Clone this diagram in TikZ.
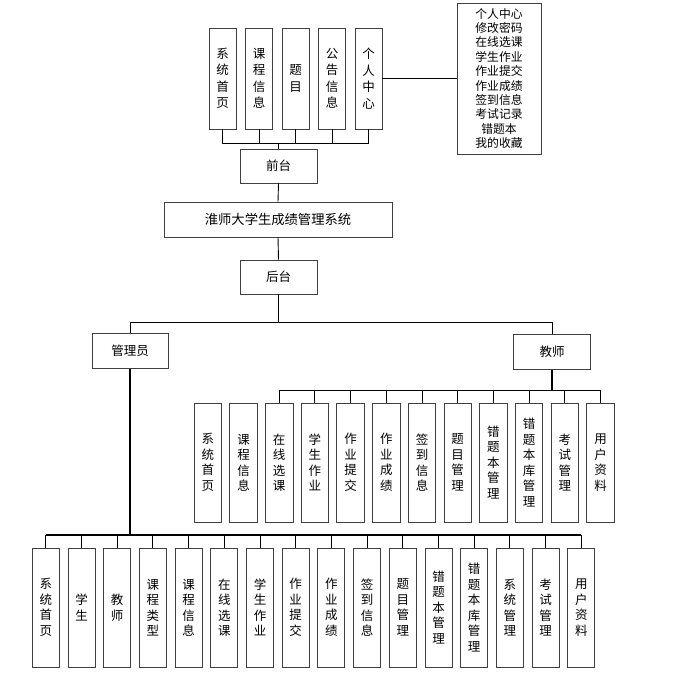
\documentclass[tikz,border=0pt]{standalone}
\usepackage{fontspec}
\newfontfamily\cjk{Noto Sans CJK SC}
\tikzset{
  box/.style={draw=black!75, line width=0.9pt, inner sep=0pt, align=center,
    font=\cjk\fontsize{12.5}{14}\selectfont},
  vbox/.style={box, font=\cjk\fontsize{12.5}{15.5}\selectfont},
  link/.style={draw=black, line width=0.9pt},
  boldlink/.style={draw=black, line width=1.8pt}
}
\begin{document}
\begin{tikzpicture}[x=1pt,y=-1pt]
        \useasboundingbox (0,0) rectangle (684,672);

        % Front part
        \foreach \t [count=\i] in {{系\\统\\首\\页},{课\\程\\信\\息},{题\\目},{公\\告\\信\\息},{个\\人\\中\\心}}
            \node[vbox, minimum width=27pt, minimum height=101pt,
                  font=\cjk\fontsize{12.5}{16.5}\selectfont] (t\i) at (222.5+36.5*\i-36.5,78.5) {\t};
        \node[box, minimum width=84pt, minimum height=151pt,
              font=\cjk\fontsize{11.8}{14.4}\selectfont] (grzx) at (499,78.5)
            {个人中心\\修改密码\\在线选课\\学生作业\\作业提交\\作业成绩\\签到信息\\考试记录\\错题本\\我的收藏};
        \node[box, minimum width=77pt, minimum height=34pt] (qt) at (278.5,166) {前台};
        \coordinate (qbus) at (278.5,143);
        \foreach \i in {1,...,5}
            \draw[link] (t\i.south) |- (qbus);
        \draw[link] (qbus) -- (qt.north);
        \draw[link] (t5.east) -- (grzx.west);

        % System
        \node[box, minimum width=228pt, minimum height=35pt,
              font=\cjk\fontsize{13.3}{15}\selectfont] (xt) at (278,219.5) {淮师大学生成绩管理系统};
        \node[box, minimum width=77pt, minimum height=34pt] (ht) at (278.5,277) {后台};
        \draw[link] (qt.south) -- (xt.north);
        \draw[link] (xt.south) -- (ht.north);

        % Back part
        \node[box, minimum width=76pt, minimum height=35pt] (gly) at (130,351) {管理员};
        \node[box, minimum width=77pt, minimum height=35pt] (js) at (552,352) {教师};
        \coordinate (hbus) at (278.5,322);
        \draw[link] (ht.south) -- (hbus);
        \draw[link] (hbus) -| (gly.north);
        \draw[link] (hbus) -| (js.north);

        % Teacher
        \foreach \t [count=\i] in {{系\\统\\首\\页},{课\\程\\信\\息},{在\\线\\选\\课},{学\\生\\作\\业},
                {作\\业\\提\\交},{作\\业\\成\\绩},{签\\到\\信\\息},{题\\目\\管\\理},{错\\题\\本\\管\\理},
                {错\\题\\本\\库\\管\\理},{考\\试\\管\\理},{用\\户\\资\\料}}
            \node[vbox, minimum width=27.5pt, minimum height=119pt] (js\i) at (207.8+35.7*\i-35.7,462.5) {\t};
        \coordinate (jbus) at (552,390);
        \draw[boldlink] (js.south) -- (jbus);
        \draw[link] (js3.north |- jbus) -- (js12.north |- jbus);
        \foreach \i in {3,...,12}
            \draw[link] (js\i.north |- jbus) -- (js\i.north);

        % Administrator
        \foreach \t [count=\i] in {{系\\统\\首\\页},{学\\生},{教\\师},{课\\程\\类\\型},{课\\程\\信\\息},
                {在\\线\\选\\课},{学\\生\\作\\业},{作\\业\\提\\交},{作\\业\\成\\绩},{签\\到\\信\\息},
                {题\\目\\管\\理},{错\\题\\本\\管\\理},{错\\题\\本\\库\\管\\理},{系\\统\\管\\理},
                {考\\试\\管\\理},{用\\户\\资\\料}}
            \node[vbox, minimum width=27pt, minimum height=119pt] (g\i) at (45.8+35.7*\i-35.7,607.5) {\t};
        \coordinate (gbus) at (130,535);
        \draw[boldlink] (gly.south) -- (gbus);
        \draw[line width=1.5pt] (g1.north |- gbus) -- (g16.north |- gbus);
        \foreach \i in {1,...,16}
            \draw[link] (g\i.north |- gbus) -- (g\i.north);
    \end{tikzpicture}
\end{document}
